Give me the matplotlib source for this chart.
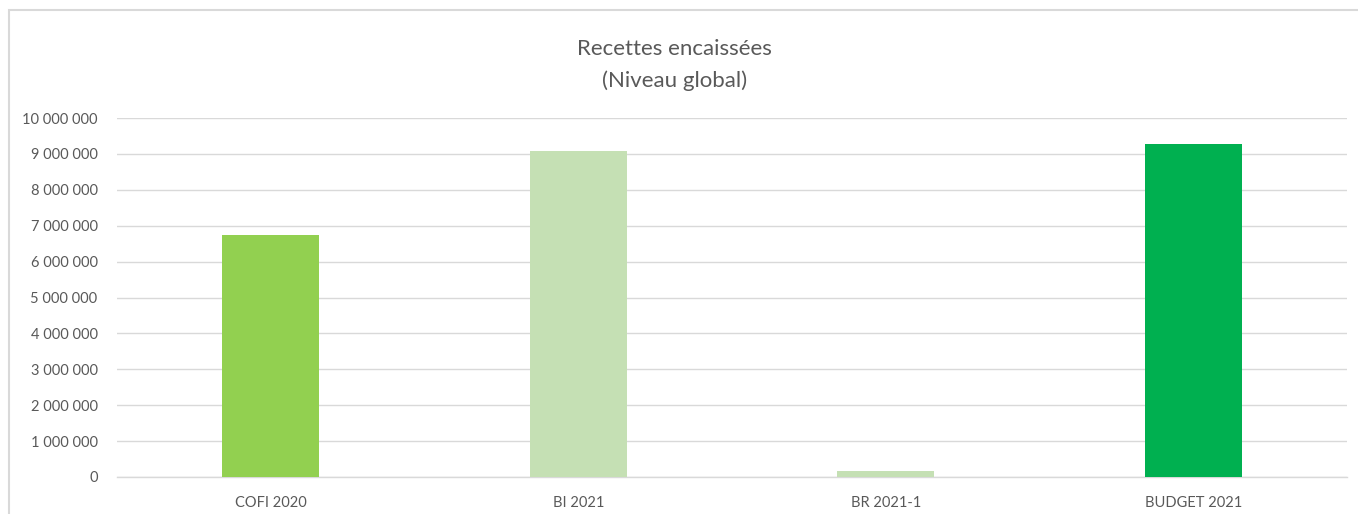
import matplotlib

matplotlib.use("Agg")
import matplotlib.pyplot as plt
from matplotlib.patches import Rectangle
from matplotlib.ticker import FuncFormatter

categories = ["COFI 2020", "BI 2021", "BR 2021-1", "BUDGET 2021"]
values = [6740000, 9070000, 170000, 9280000]
colors = ["#92D050", "#C5E0B4", "#C5E0B4", "#00B050"]
yticks = list(range(0, 10000001, 1000000))

plt.rcParams["font.family"] = ["Lato", "DejaVu Sans"]

W, H = 1358, 514
fig = plt.figure(figsize=(W / 100, H / 100), dpi=100)

# chart-area border (light gray, clipped by figure edges)
fig.patches.append(
    Rectangle((9 / W, -0.1), 1.2, 1 - 10 / H + 0.1, transform=fig.transFigure,
              fill=False, edgecolor="#D9D9D9", lw=1.5)
)

ax = fig.add_axes([117 / W, 1 - 477 / H, (1347 - 117) / W, (477 - 118) / H])
x = range(len(categories))
ax.bar(x, values, width=0.315, color=colors, zorder=3)

ax.set_xlim(-0.5, len(categories) - 0.5)
ax.set_ylim(0, 10000000)
ax.set_yticks(yticks)
ax.yaxis.set_major_formatter(FuncFormatter(lambda v, _: f"{int(v):,}".replace(",", " ")))
ax.set_xticks(list(x))
ax.set_xticklabels(categories)
ax.tick_params(axis="both", length=0, labelsize=10.5, colors="#595959")
ax.tick_params(axis="y", pad=14)
ax.tick_params(axis="x", pad=14)

ax.grid(True, axis="y", color="#D9D9D9", lw=1, zorder=0)
for s in ["top", "right", "left"]:
    ax.spines[s].set_visible(False)
ax.spines["bottom"].set_color("#D9D9D9")
ax.spines["bottom"].set_linewidth(1)

fig.text(0.497, 1 - 65 / H, "Recettes encaissées\n(Niveau global)", ha="center",
         va="center", fontsize=16, color="#595959", linespacing=1.65)

fig.savefig("out.png", dpi=100)
